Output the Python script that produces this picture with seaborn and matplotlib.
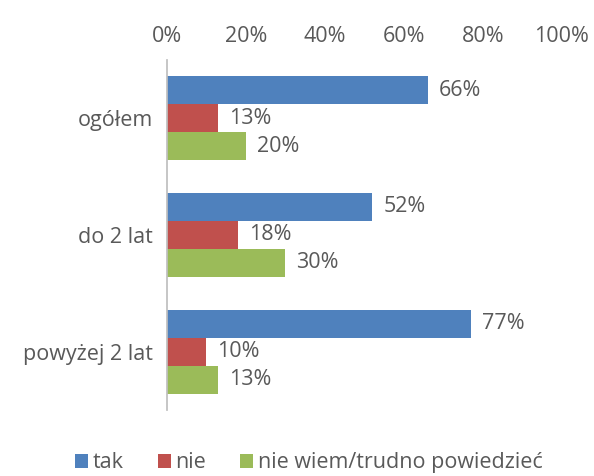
import pandas as pd
import matplotlib.pyplot as plt
import seaborn as sns

categories = ['ogółem', 'do 2 lat', 'powyżej 2 lat']
series = ['tak', 'nie', 'nie wiem/trudno powiedzieć']
tak = [66, 52, 77]
nie = [13, 18, 10]
nie_wiem = [20, 30, 13]
colors = ['#4F81BD', '#C0504D', '#9BBB59']

rows = []
for name, vals in zip(series, [tak, nie, nie_wiem]):
    for cat, v in zip(categories, vals):
        rows.append({'kategoria': cat, 'seria': name, 'wartosc': v})
df = pd.DataFrame(rows)

sns.set_theme(style="white")
plt.rcParams['font.family'] = ['Open Sans', 'DejaVu Sans']
text_col = '#595959'
fs = 15.5

fig = plt.figure(figsize=(5.94, 4.76), dpi=100)
ax = fig.add_axes([0.281, 0.139, 0.665, 0.735])
sns.barplot(data=df, y='kategoria', x='wartosc', hue='seria', order=categories,
            hue_order=series, palette=colors, orient='h', width=0.72,
            saturation=1, linewidth=0, ax=ax, legend=True)

for cont in ax.containers:
    ax.bar_label(cont, fmt='%d%%', padding=8, fontsize=fs, color=text_col)

ax.set_xlim(0, 100)
ax.set_xticks([0, 20, 40, 60, 80, 100])
ax.set_xticklabels([f'{t}%' for t in [0, 20, 40, 60, 80, 100]])
ax.xaxis.tick_top()
ax.tick_params(axis='x', length=0, pad=9, labelsize=fs, colors=text_col)
ax.tick_params(axis='y', length=0, pad=10, labelsize=fs, colors=text_col)
ax.set_xlabel('')
ax.set_ylabel('')
for s in ['top', 'right', 'bottom']:
    ax.spines[s].set_visible(False)
ax.spines['left'].set_color('#BFBFBF')
ax.grid(False)

handles, labels = ax.get_legend_handles_labels()
ax.get_legend().remove()
fig.legend(handles, labels, loc='lower center', bbox_to_anchor=(0.52, -0.035), ncol=3,
           frameon=False, fontsize=fs, handlelength=0.6, handleheight=0.6,
           handletextpad=0.2, columnspacing=1.6, labelcolor=text_col)

fig.savefig('out.png', dpi=100)
